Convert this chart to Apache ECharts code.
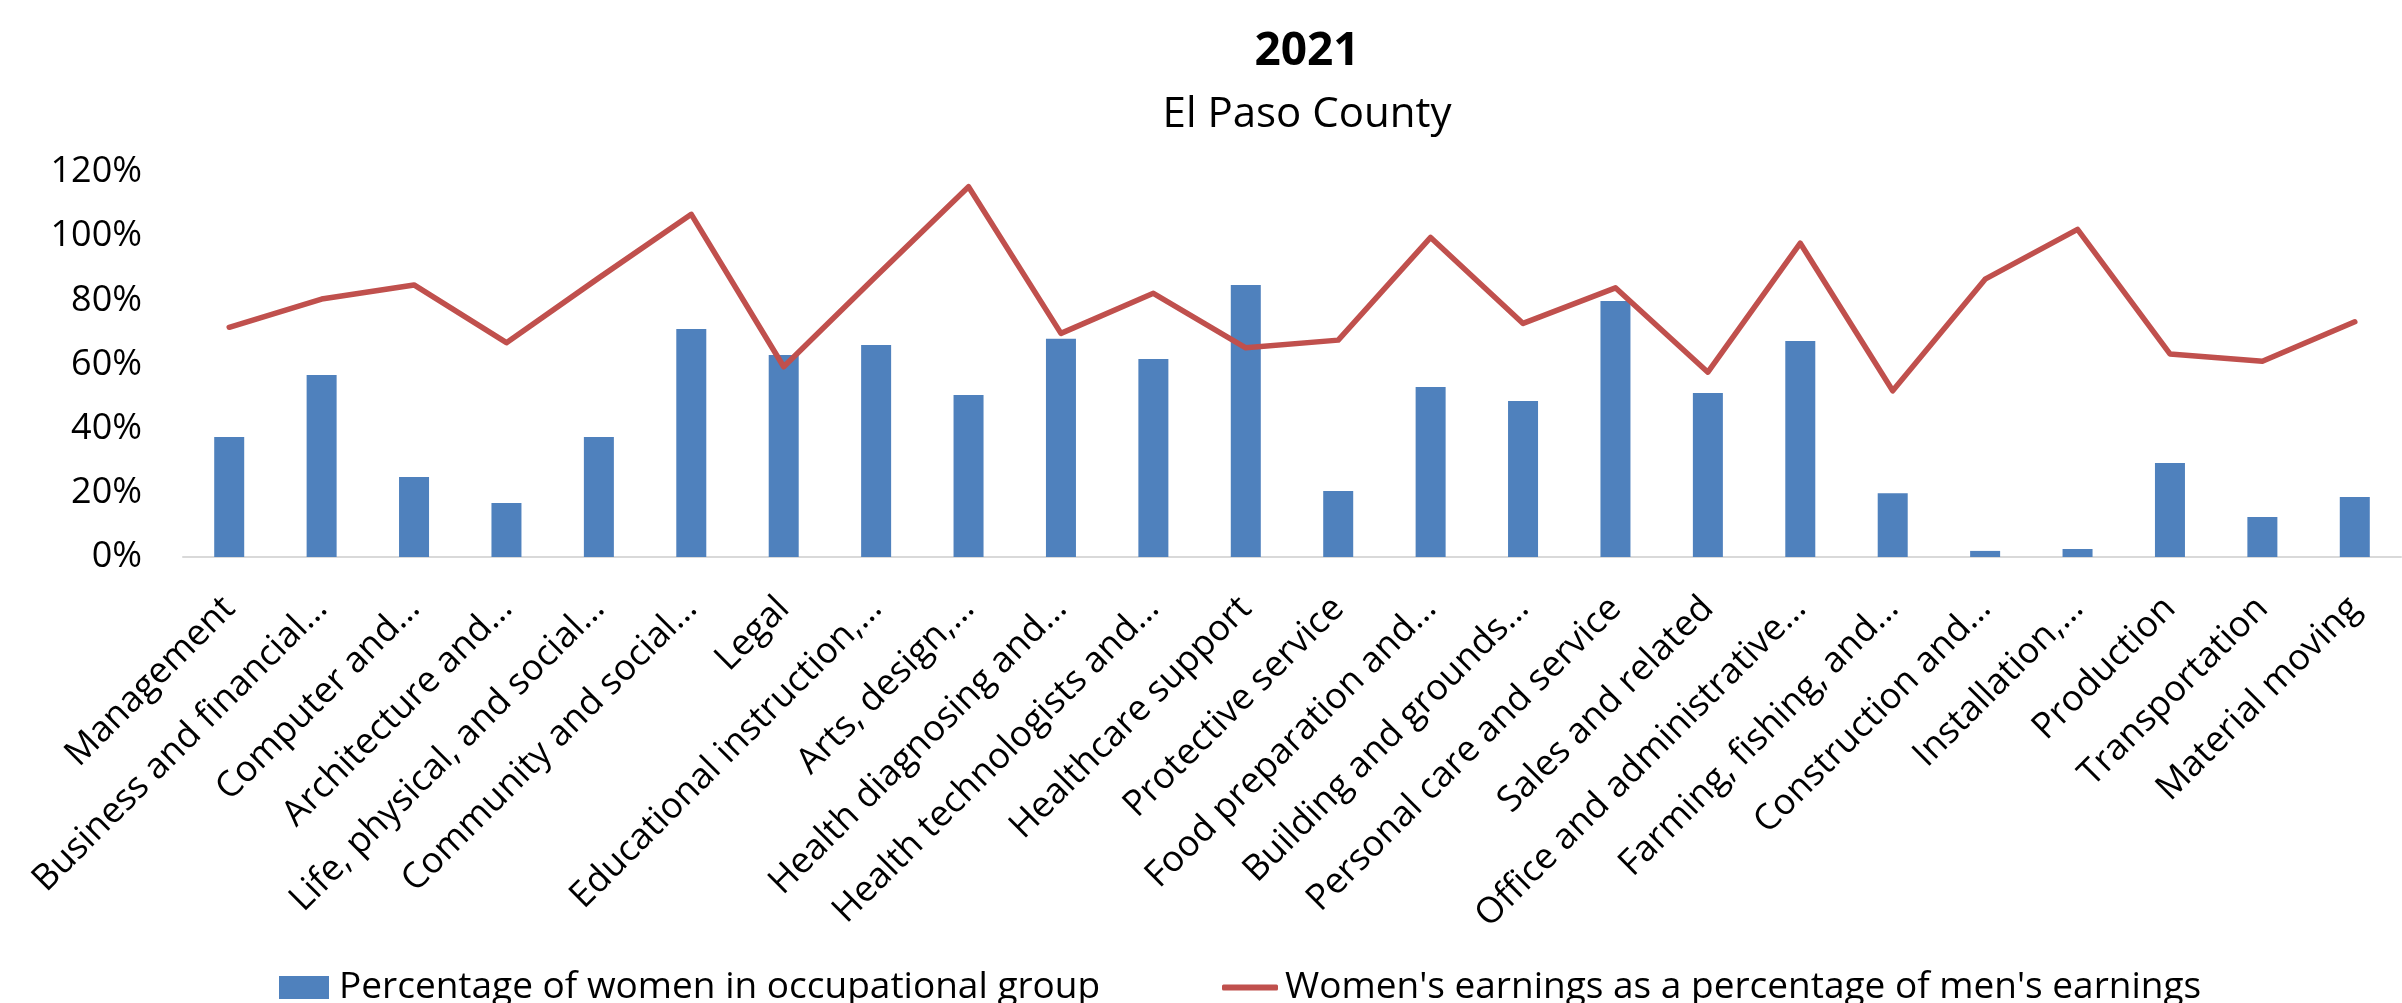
<!DOCTYPE html>
<html>
<head>
<meta charset="utf-8">
<script src="https://cdn.jsdelivr.net/npm/echarts@6/dist/echarts.min.js"></script>
<style>
html,body{margin:0;padding:0;background:#fff;}
#chart{width:2402px;height:1003px;}
</style>
</head>
<body>
<div id="chart"></div>
<script>
const categories = [
  "Management",
  "Business and financial…",
  "Computer and…",
  "Architecture and…",
  "Life, physical, and social…",
  "Community and social…",
  "Legal",
  "Educational instruction,…",
  "Arts, design,…",
  "Health diagnosing and…",
  "Health technologists and…",
  "Healthcare support",
  "Protective service",
  "Food preparation and…",
  "Building and grounds…",
  "Personal care and service",
  "Sales and related",
  "Office and administrative…",
  "Farming, fishing, and…",
  "Construction and…",
  "Installation,…",
  "Production",
  "Transportation",
  "Material moving"
];
const womenShare = [37.4, 56.7, 24.9, 16.8, 37.4, 71.1, 63.0, 66.1, 50.5, 68.0, 61.7, 84.8,
                    20.6, 53.0, 48.6, 79.8, 51.1, 67.3, 19.9, 1.9, 2.5, 29.3, 12.5, 18.7];
const earningsRatio = [71.6, 80.4, 84.8, 66.8, 87.0, 106.8, 59.3, 87.5, 115.4, 69.7, 82.2, 65.2,
                       67.6, 99.6, 72.8, 83.9, 57.6, 97.8, 51.8, 86.6, 102.1, 63.3, 61.0, 73.3];
const yTicks = [0, 20, 40, 60, 80, 100, 120];
const seriesNames = ["Percentage of women in occupational group", "Women's earnings as a percentage of men's earnings"];
const titleText = "2021";
const subtitleText = "El Paso County";

const FONT = "'Open Sans', 'Noto Sans', sans-serif";
const chart = echarts.init(document.getElementById('chart'), null, {renderer: 'canvas'});
chart.setOption({
  animation: false,
  backgroundColor: '#ffffff',
  title: [
    {text: titleText, left: 1302, top: 24, textAlign: 'center',
     textStyle: {fontFamily: FONT, fontSize: 46, fontWeight: 'bold', color: '#000', lineHeight: 46}},
    {text: subtitleText, left: 1302, top: 89, textAlign: 'center',
     textStyle: {fontFamily: FONT, fontSize: 42, fontWeight: 'normal', color: '#000', lineHeight: 42}}
  ],
  legend: [
    {data: [{name: seriesNames[0], icon: 'rect'}], left: 274, top: 964, itemWidth: 50, itemHeight: 23, itemGap: 0,
     textStyle: {fontFamily: FONT, fontSize: 37, color: '#000', padding: [0,0,0,5]}},
    {data: [{name: seriesNames[1], icon: 'roundRect'}], left: 1217, top: 964, itemWidth: 56, itemHeight: 6, itemGap: 0,
     textStyle: {fontFamily: FONT, fontSize: 37, color: '#000', padding: [0,0,0,2]}}
  ],
  grid: {left: 183, right: 1, top: 172, bottom: 446, containLabel: false},
  xAxis: {
    type: 'category',
    data: categories,
    boundaryGap: true,
    axisLine: {show: true, lineStyle: {color: '#d9d9d9', width: 2}},
    axisTick: {show: false},
    axisLabel: {interval: 0, rotate: 45, margin: 46, fontFamily: FONT, fontSize: 36, color: '#000'}
  },
  yAxis: {
    type: 'value',
    min: yTicks[0], max: yTicks[yTicks.length - 1], interval: 20,
    axisLine: {show: false},
    axisTick: {show: false},
    splitLine: {show: false},
    axisLabel: {margin: 41, fontFamily: FONT, fontSize: 36, color: '#000', formatter: '{value}%'}
  },
  series: [
    {name: seriesNames[0], type: 'bar', data: womenShare, barWidth: 30,
     itemStyle: {color: '#4f81bd'}},
    {name: seriesNames[1], type: 'line', data: earningsRatio, symbol: 'none',
     lineStyle: {color: '#c0504d', width: 5.5, cap: 'round', join: 'round'}, itemStyle: {color: '#c0504d'}}
  ]
});
</script>
</body>
</html>
